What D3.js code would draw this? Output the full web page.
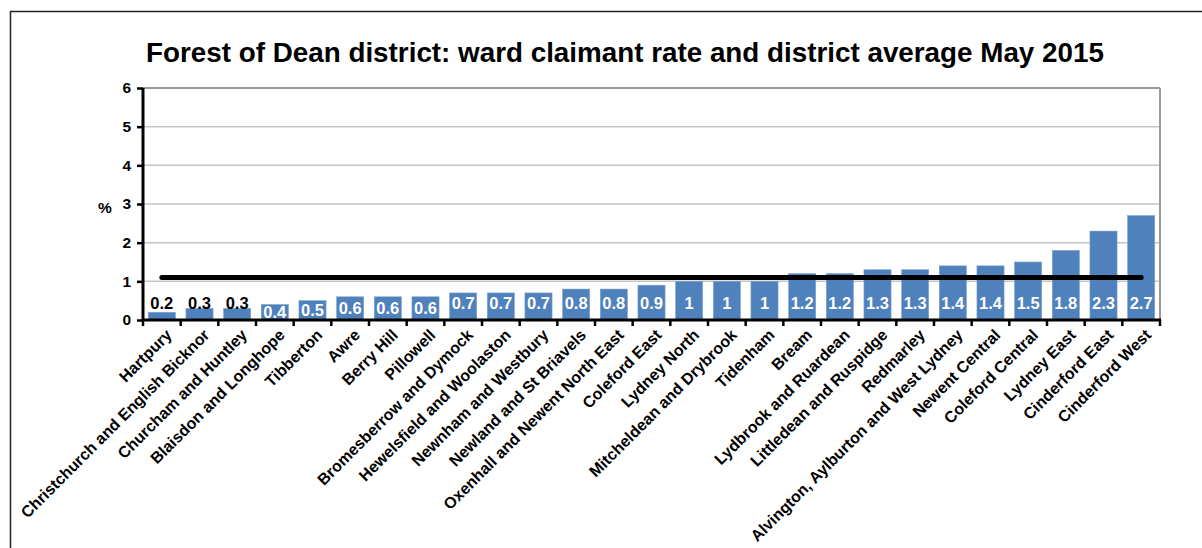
<!DOCTYPE html>
<html><head><meta charset="utf-8">
<script src="https://cdn.jsdelivr.net/npm/d3@7"></script>
<style>
html,body{margin:0;padding:0;background:#fff;}
svg{display:block;font-family:"Liberation Sans",Arial,sans-serif;}
</style></head>
<body><svg id="c" width="1202" height="548"></svg>
<script>
const title = "Forest of Dean district: ward claimant rate and district average May 2015";
const wards = ["Hartpury","Christchurch and English Bicknor","Churcham and Huntley","Blaisdon and Longhope","Tibberton","Awre","Berry Hill","Pillowell","Bromesberrow and Dymock","Hewelsfield and Woolaston","Newnham and Westbury","Newland and St Briavels","Oxenhall and Newent North East","Coleford East","Lydney North","Mitcheldean and Drybrook","Tidenham","Bream","Lydbrook and Ruardean","Littledean and Ruspidge","Redmarley","Alvington, Aylburton and West Lydney","Newent Central","Coleford Central","Lydney East","Cinderford East","Cinderford West"];
const rates = [0.2,0.3,0.3,0.4,0.5,0.6,0.6,0.6,0.7,0.7,0.7,0.8,0.8,0.9,1,1,1,1.2,1.2,1.3,1.3,1.4,1.4,1.5,1.8,2.3,2.7];
const districtAverage = 1.1;
const yTicks = [0,1,2,3,4,5,6];
const yLabel = "%";

const svg = d3.select("#c");
const L = 143, R = 1160, T = 88, B = 320;
const x = d3.scaleBand().domain(wards).range([L, R]).paddingInner(0.28).paddingOuter(0.14);
const y = d3.scaleLinear().domain([0, 6]).range([B, T]);

// outer border
svg.append("rect").attr("x",10.5).attr("y",11.5).attr("width",1250).attr("height",600)
  .attr("fill","none").attr("stroke","#222").attr("stroke-width",1.5);

// title
svg.append("text").attr("x",625).attr("y",62).attr("text-anchor","middle")
  .attr("font-size",27.8).attr("font-weight","bold").attr("fill","#000").text(title);

// gridlines
svg.append("g").selectAll("line").data(yTicks.filter(d=>d>0)).join("line")
  .attr("x1",L).attr("x2",R).attr("y1",d=>y(d)).attr("y2",d=>y(d))
  .attr("stroke",d=>d===6?"#9a9a9a":"#c4c4c4").attr("stroke-width",d=>d===6?2:1.5);
// right border
svg.append("line").attr("x1",R).attr("x2",R).attr("y1",T).attr("y2",B).attr("stroke","#9a9a9a").attr("stroke-width",2);

// bars
svg.append("g").selectAll("rect").data(rates).join("rect")
  .attr("x",(d,i)=>x(wards[i])).attr("width",x.bandwidth())
  .attr("y",d=>y(d)).attr("height",d=>B-y(d))
  .attr("fill","#4f81bd").attr("stroke","#7fa3d0").attr("stroke-width",0.6);

// average line
svg.append("line")
  .attr("x1",x(wards[0])+x.bandwidth()/2).attr("x2",x(wards[wards.length-1])+x.bandwidth()/2)
  .attr("y1",y(districtAverage)).attr("y2",y(districtAverage))
  .attr("stroke","#000").attr("stroke-width",5).attr("stroke-linecap","round");

// bar labels
svg.append("g").selectAll("text").data(rates).join("text")
  .attr("x",(d,i)=>x(wards[i])+x.bandwidth()/2)
  .attr("y",d=> d < 0.4 ? B-17 : (d>=0.7 ? B-17 : (y(d)+B)/2))
  .attr("dy","0.36em")
  .attr("text-anchor","middle").attr("font-size",16.5).attr("font-weight","bold")
  .attr("fill",d=> d<0.4 ? "#000" : "#fff").text(d=>d);

// y axis
const yAxis = d3.axisLeft(y).tickValues(yTicks).tickSize(6).tickPadding(6).tickFormat(d3.format("d"));
const gy = svg.append("g").attr("transform",`translate(${L},0)`).call(yAxis);
gy.select(".domain").attr("stroke","#000").attr("stroke-width",3).attr("d",`M0,${T}V${B}`);
gy.selectAll(".tick line").attr("stroke","#000").attr("stroke-width",2.5);
gy.selectAll(".tick text").attr("font-size",15.5).attr("font-weight","bold").attr("font-family","Liberation Sans, Arial, sans-serif").attr("fill","#000");

svg.append("text").attr("x",105).attr("y",207).attr("dy","0.36em").attr("text-anchor","middle")
  .attr("font-size",15.5).attr("font-weight","bold").text(yLabel);

// x axis line + ticks at boundaries
const bounds = d3.range(wards.length+1).map(i=>L + i*(R-L)/wards.length);
svg.append("line").attr("x1",L).attr("x2",R+1).attr("y1",B).attr("y2",B).attr("stroke","#000").attr("stroke-width",3);
svg.append("g").selectAll("line").data(bounds).join("line")
  .attr("x1",d=>d).attr("x2",d=>d).attr("y1",B).attr("y2",B+6).attr("stroke","#000").attr("stroke-width",2.5);

// x labels
svg.append("g").selectAll("text").data(wards).join("text")
  .attr("transform",d=>`translate(${x(d)+x.bandwidth()/2+11},${B+16}) rotate(-45)`)
  .attr("text-anchor","end").attr("font-size",16).attr("font-weight","bold").attr("fill","#000").text(d=>d);
</script></body></html>
